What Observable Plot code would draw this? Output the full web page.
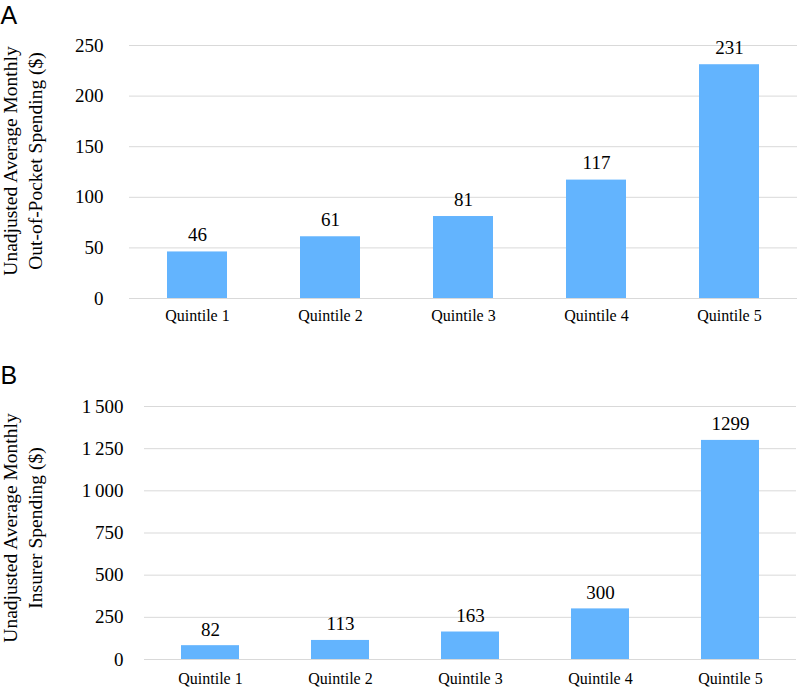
<!DOCTYPE html>
<html>
<head>
<meta charset="utf-8">
<script src="https://cdn.jsdelivr.net/npm/d3@7"></script>
<script src="https://cdn.jsdelivr.net/npm/@observablehq/plot@0.6"></script>
<style>
  html, body { margin: 0; padding: 0; background: #fff; }
  #chart { width: 797px; height: 687px; position: relative; }
  #chart svg { display: block; font-family: 'Liberation Serif', 'Times New Roman', serif; }
</style>
</head>
<body>
<div id="chart"></div>
<script>
const quintiles = ["Quintile 1", "Quintile 2", "Quintile 3", "Quintile 4", "Quintile 5"];
const outOfPocket = [46, 61, 81, 117, 231];
const insurer = [82, 113, 163, 300, 1299];
const ticksA = [0, 50, 100, 150, 200, 250];
const ticksB = [0, 250, 500, 750, 1000, 1250, 1500];
const titleA = "Unadjusted Average Monthly\nOut-of-Pocket Spending ($)";
const titleB = "Unadjusted Average Monthly\nInsurer Spending ($)";

const barColor = "#63b4fe";
const gridColor = "#d9d9d9";
const serif = "Liberation Serif";
const sans = "Liberation Sans";

const locale = d3.formatLocale({decimal: ".", thousands: "\u2009", grouping: [3], currency: ["", ""]});
const fmtB = locale.format(",d");

function panel(o) {
  const data = quintiles.map((q, i) => ({q, v: o.values[i]}));
  return Plot.plot({
    width: 797,
    height: o.height,
    marginLeft: o.marginLeft,
    marginRight: o.marginRight,
    marginTop: o.marginTop,
    marginBottom: o.marginBottom,
    style: {fontFamily: serif, background: "#fff", color: "#000", overflow: "visible"},
    x: {domain: quintiles, paddingInner: 0.55, paddingOuter: 0.275},
    y: {domain: [0, o.ticks[o.ticks.length - 1]]},
    marks: [
      Plot.gridY(o.ticks, {stroke: gridColor, strokeOpacity: 1, strokeWidth: 1}),
      Plot.barY(data, {x: "q", y: "v", fill: barColor}),
      Plot.text(data, {x: "q", y: "v", text: d => String(d.v), dy: -o.valueGap, lineAnchor: "bottom", fontSize: 19, fontFamily: serif, fill: "#000"}),
      Plot.axisY(o.ticks, {tickSize: 0, tickPadding: o.tickPadY, fontSize: 19, fontFamily: serif, label: null, tickFormat: o.fmt}),
      Plot.axisX({tickSize: 0, tickPadding: o.tickPadX, fontSize: 16, fontFamily: serif, label: null}),
      Plot.text([o.title], {frameAnchor: "left", rotate: -90, dx: -o.marginLeft + o.titleX, dy: o.titleDy, lineAnchor: "middle", textAnchor: "middle", lineHeight: 1.28, fontSize: 19.5, fontFamily: serif, fill: "#000"}),
      Plot.text([o.letter], {frameAnchor: "top-left", dx: -o.marginLeft, dy: o.letterDy, textAnchor: "start", lineAnchor: "bottom", fontSize: 25, fontFamily: sans, fill: "#000"})
    ]
  });
}

const chart = document.getElementById("chart");
chart.append(panel({
  values: outOfPocket, ticks: ticksA, fmt: d => String(d),
  height: 330, marginLeft: 129, marginRight: 0, marginTop: 45, marginBottom: 32,
  tickPadY: 26, tickPadX: 11, valueGap: 11,
  title: titleA, titleX: 21, titleDy: -11,
  letter: "A", letterDy: -22
}));
chart.append(panel({
  values: insurer, ticks: ticksB, fmt: fmtB,
  height: 357, marginLeft: 144, marginRight: 1, marginTop: 76, marginBottom: 28,
  tickPadY: 21, tickPadX: 13, valueGap: 10,
  title: titleB, titleX: 21, titleDy: -5,
  letter: "B", letterDy: -23
}));
</script>
</body>
</html>
